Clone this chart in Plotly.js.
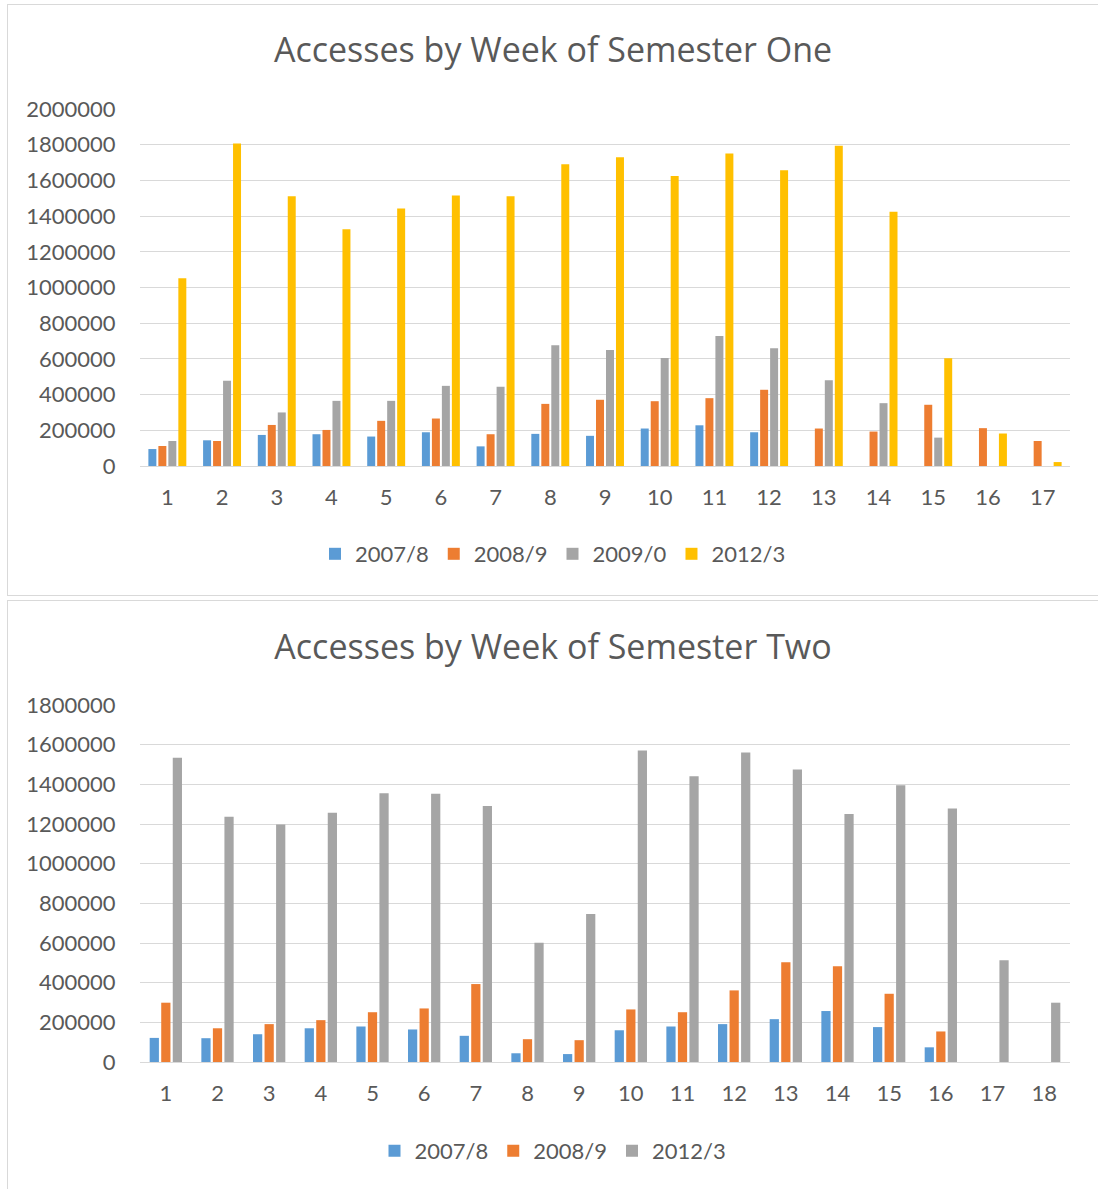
<!DOCTYPE html>
<html>
<head>
<meta charset="utf-8">
<script src="https://cdn.plot.ly/plotly-3.0.1.min.js"></script>
<style>
  html, body { margin: 0; padding: 0; background: #fff; overflow: hidden; }
  .box { position: absolute; left: 7px; width: 1092px; border: 1px solid #d9d9d9; box-sizing: border-box; background: #fff; }
  #c1 { top: 4px; height: 592px; }
  #c2 { top: 600px; height: 600px; }
</style>
</head>
<body>
<div id="c1" class="box"></div>
<div id="c2" class="box"></div>
<script>
// ---- Semester One ----
const weeks1 = ["1","2","3","4","5","6","7","8","9","10","11","12","13","14","15","16","17"];
const s1_2007 = [95000,144000,174000,178000,165000,189000,110000,180000,169000,210000,228000,189000,null,null,null,null,null];
const s1_2008 = [112000,140000,230000,202000,253000,266000,178000,348000,371000,363000,380000,427000,210000,193000,343000,212000,140000];
const s1_2009 = [140000,477000,300000,365000,365000,449000,444000,676000,650000,605000,728000,659000,481000,352000,159000,null,null];
const s1_2012 = [1052000,1807000,1511000,1326000,1442000,1515000,1511000,1691000,1730000,1625000,1751000,1657000,1794000,1425000,603000,182000,22000];
const yTicks1 = [0,200000,400000,600000,800000,1000000,1200000,1400000,1600000,1800000,2000000];

// ---- Semester Two ----
const weeks2 = ["1","2","3","4","5","6","7","8","9","10","11","12","13","14","15","16","17","18"];
const s2_2007 = [121500,120000,140000,170000,179000,164000,132000,44000,40000,160000,179000,191000,216000,257000,176000,74000,null,null];
const s2_2008 = [299000,170000,191000,211000,251000,270000,393000,115000,110000,265000,251000,361000,503000,483000,344000,154000,null,null];
const s2_2012 = [1534000,1237000,1197000,1257000,1355000,1352000,1291000,601000,746000,1570000,1441000,1561000,1475000,1251000,1396000,1278000,513000,299000];
const yTicks2 = [0,200000,400000,600000,800000,1000000,1200000,1400000,1600000,1800000];

const C_BLUE = "#5B9BD5", C_ORANGE = "#ED7D31", C_GRAY = "#A5A5A5", C_YELLOW = "#FFC000";
const TXT = "#595959";
const FONT = "Lato, 'Open Sans', sans-serif";
const TFONT = "'Open Sans', Lato, sans-serif";

function bar(name, x, y, color) {
  return { type: "bar", name: name, x: x, y: y, marker: { color: color, line: { width: 0 } }, hoverinfo: "skip" };
}

function makeLayout(title, H, yMax, ticks, bottomMargin, titleY, legendY, bargap) {
  return {
    width: 1090, height: H - 2,
    paper_bgcolor: "#fff", plot_bgcolor: "#fff",
    font: { family: FONT, color: TXT, size: 22 },
    margin: { l: 132, r: 28, t: 104, b: bottomMargin, pad: 0 },
    title: { text: title, font: { family: TFONT, size: 34, color: TXT, weight: 400 },
             x: 0.5, xanchor: "center", xref: "container", yref: "container", y: titleY, yanchor: "middle" },
    barmode: "group", bargap: bargap, bargroupgap: 0.2,
    showlegend: true,
    legend: { orientation: "h", x: 0.5, xanchor: "center", xref: "container", yref: "container",
              y: legendY, yanchor: "middle", font: { size: 22, color: TXT }, itemwidth: 30,
              itemclick: false, itemdoubleclick: false, traceorder: "normal" },
    xaxis: { type: "category", showgrid: false, showline: true, linecolor: "#d9d9d9", linewidth: 1,
             ticks: "outside", ticklen: 12, tickcolor: "rgba(0,0,0,0)", tickfont: { size: 22, color: TXT },
             fixedrange: true },
    yaxis: { range: [0, yMax], tickmode: "array", tickvals: ticks, ticktext: ticks.map(String),
             showgrid: true, gridcolor: "#d9d9d9", gridwidth: 1, zeroline: false, showline: false,
             ticks: "outside", ticklen: 19, tickcolor: "rgba(0,0,0,0)", tickfont: { size: 22, color: TXT },
             fixedrange: true }
  };
}

const data1 = [
  bar("2007/8", weeks1, s1_2007, C_BLUE),
  bar("2008/9", weeks1, s1_2008, C_ORANGE),
  bar("2009/0", weeks1, s1_2009, C_GRAY),
  bar("2012/3", weeks1, s1_2012, C_YELLOW)
];
const data2 = [
  bar("2007/8", weeks2, s2_2007, C_BLUE),
  bar("2008/9", weeks2, s2_2008, C_ORANGE),
  bar("2012/3", weeks2, s2_2012, C_GRAY)
];

const H1 = 592, H2 = 600;
Plotly.newPlot("c1", data1,
  makeLayout("Accesses by Week of Semester One", H1, 2000000, yTicks1, 129, 1 - 45 / (H1 - 2), 1 - 549 / (H1 - 2), 0.27),
  { displayModeBar: false, staticPlot: true });
Plotly.newPlot("c2", data2,
  makeLayout("Accesses by Week of Semester Two", H2, 1800000, yTicks2, 137, 1 - 46 / (H2 - 2), 1 - 550 / (H2 - 2), 0.33),
  { displayModeBar: false, staticPlot: true });
</script>
</body>
</html>
